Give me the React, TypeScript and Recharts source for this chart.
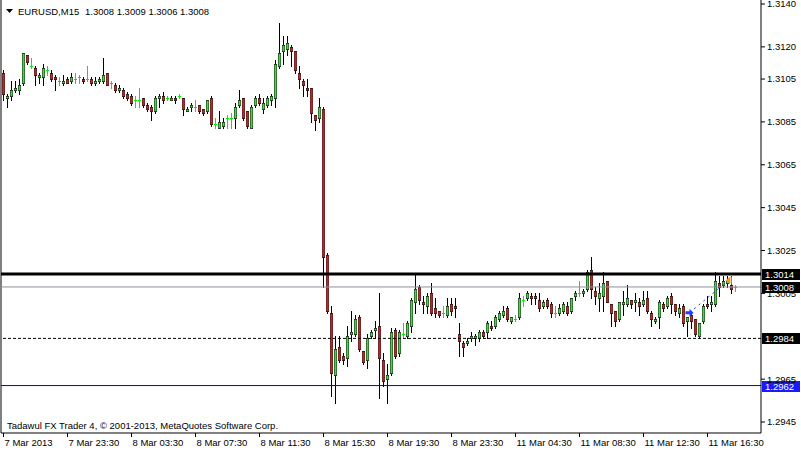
import React from "react";
import {
  ComposedChart,
  Bar,
  XAxis,
  YAxis,
  ReferenceLine,
  ReferenceDot,
} from "recharts";

// EURUSD M15 candles, 7 Mar 19:30 .. 11 Mar 18:15
const open = [
  1.3108, 1.3096, 1.3097, 1.31, 1.31, 1.3103, 1.3116, 1.3111, 1.311, 1.3106,
  1.3106, 1.3109, 1.3108, 1.3106, 1.3104, 1.3103, 1.3105, 1.3104, 1.3105, 1.3106,
  1.3105, 1.3105, 1.3105, 1.3103, 1.3104, 1.3104, 1.3108, 1.3103, 1.3102, 1.31,
  1.31, 1.3098, 1.3097, 1.3095, 1.3095, 1.3096, 1.3093, 1.3092, 1.309, 1.3096,
  1.3097, 1.3096, 1.3095, 1.3096, 1.3097, 1.3096, 1.309, 1.3092, 1.3092, 1.3093,
  1.3091, 1.309, 1.3096, 1.3084, 1.3082, 1.3083, 1.3087, 1.3087, 1.3087, 1.3093,
  1.3096, 1.309, 1.3082, 1.3093, 1.3096, 1.3091, 1.3093, 1.3095, 1.3096, 1.3111,
  1.3118, 1.3119, 1.312, 1.3118, 1.3108, 1.3104, 1.3101, 1.3101, 1.3088, 1.3087,
  1.3091, 1.3023, 1.2996, 1.2967, 1.298, 1.2976, 1.2975, 1.2986, 1.2986, 1.2994,
  1.2978, 1.2974, 1.2985, 1.2988, 1.299, 1.2974, 1.2965, 1.2968, 1.2988, 1.2977,
  1.2986, 1.2985, 1.299, 1.3001, 1.3008, 1.3001, 1.2999, 1.3005, 1.2998, 1.2997,
  1.2996, 1.2995, 1.3, 1.2999, 1.2986, 1.2982, 1.2982, 1.2984, 1.2984, 1.2984,
  1.2987, 1.2987, 1.299, 1.299, 1.2993, 1.2995, 1.2998, 1.2992, 1.2993, 1.2994,
  1.3002, 1.3003, 1.3004, 1.3004, 1.3002, 1.2999, 1.3002, 1.3, 1.2996, 1.2996,
  1.2997, 1.2999, 1.2997, 1.3004, 1.3005, 1.3005, 1.3007, 1.3016, 1.3006, 1.3003,
  1.3004, 1.3011, 1.3, 1.2997, 1.2993, 1.3, 1.3, 1.3002, 1.3001, 1.3001,
  1.3, 1.3003, 1.2996, 1.2992, 1.2994, 1.3, 1.2999, 1.3004, 1.3, 1.2996,
  1.2999, 1.2992, 1.2995, 1.2993, 1.2985, 1.2992, 1.3, 1.3, 1.3, 1.301,
  1.3009, 1.301, 1.3009, 1.3008,
];
const high = [
  1.3109, 1.3098, 1.3104, 1.3104, 1.3105, 1.3117, 1.3116, 1.3115, 1.3111, 1.3108,
  1.3112, 1.3111, 1.3109, 1.3107, 1.3106, 1.3107, 1.3106, 1.3108, 1.3108, 1.3107,
  1.3106, 1.3111, 1.3106, 1.3106, 1.3106, 1.3115, 1.3108, 1.3104, 1.3103, 1.3102,
  1.3101, 1.3099, 1.3098, 1.3097, 1.3101, 1.3096, 1.3094, 1.3093, 1.3097, 1.3098,
  1.3099, 1.3097, 1.3097, 1.3097, 1.3098, 1.3096, 1.3092, 1.3094, 1.3095, 1.3093,
  1.3091, 1.3095, 1.3097, 1.3087, 1.309, 1.3087, 1.3088, 1.3089, 1.3094, 1.31,
  1.3096, 1.309, 1.3093, 1.3097, 1.3098, 1.3096, 1.3097, 1.3098, 1.3114, 1.3131,
  1.3125, 1.3125, 1.3121, 1.3118, 1.3111, 1.3105, 1.3105, 1.3101, 1.3088, 1.3096,
  1.3092, 1.3024, 1.2999, 1.2985, 1.2985, 1.2977, 1.299, 1.2997, 1.2995, 1.2995,
  1.2978, 1.2986, 1.2988, 1.2992, 1.3005, 1.2977, 1.2972, 1.2989, 1.2989, 1.2988,
  1.2991, 1.2992, 1.3003, 1.3014, 1.3009, 1.3004, 1.3005, 1.301, 1.3003, 1.2997,
  1.2999, 1.3003, 1.3003, 1.3003, 1.2991, 1.2983, 1.2984, 1.2987, 1.2986, 1.2988,
  1.2988, 1.2992, 1.2992, 1.2995, 1.2997, 1.2999, 1.2999, 1.2994, 1.2995, 1.3005,
  1.3004, 1.3006, 1.3005, 1.3005, 1.3005, 1.3002, 1.3003, 1.3001, 1.2999, 1.3,
  1.3001, 1.3001, 1.3003, 1.3006, 1.3011, 1.3007, 1.3016, 1.3022, 1.3008, 1.301,
  1.3015, 1.3011, 1.3, 1.2997, 1.3001, 1.3006, 1.3009, 1.3002, 1.3005, 1.3003,
  1.3006, 1.3006, 1.2997, 1.2994, 1.3002, 1.3001, 1.3004, 1.3005, 1.3, 1.3,
  1.3, 1.2994, 1.2996, 1.2993, 1.2991, 1.3, 1.3004, 1.3004, 1.3015, 1.3013,
  1.3013, 1.3013, 1.3013, 1.3009,
];
const low = [
  1.3095, 1.3092, 1.3095, 1.3099, 1.3098, 1.3102, 1.3112, 1.311, 1.3102, 1.3103,
  1.3102, 1.3107, 1.3104, 1.31, 1.3102, 1.3102, 1.3103, 1.3103, 1.3103, 1.3103,
  1.3103, 1.3104, 1.3102, 1.3102, 1.3103, 1.3103, 1.3102, 1.3101, 1.3099, 1.3099,
  1.3096, 1.3095, 1.3093, 1.3092, 1.3092, 1.3092, 1.309, 1.3086, 1.3089, 1.3092,
  1.3094, 1.3095, 1.3095, 1.3094, 1.3096, 1.3088, 1.309, 1.309, 1.309, 1.3089,
  1.3088, 1.3089, 1.3083, 1.3082, 1.3082, 1.3082, 1.3082, 1.3082, 1.3082, 1.3092,
  1.3086, 1.3082, 1.3082, 1.3092, 1.3093, 1.3089, 1.3092, 1.3093, 1.3092, 1.311,
  1.3112, 1.3116, 1.3111, 1.3108, 1.3101, 1.3097, 1.3097, 1.3085, 1.3081, 1.3085,
  1.3008, 1.2996, 1.2957, 1.2954, 1.2973, 1.2972, 1.2971, 1.2983, 1.2985, 1.2978,
  1.2972, 1.297, 1.2984, 1.2984, 1.2956, 1.2962, 1.2954, 1.2967, 1.2975, 1.2976,
  1.2984, 1.2984, 1.2987, 1.2996, 1.3, 1.2996, 1.2996, 1.2995, 1.2994, 1.2994,
  1.2994, 1.2994, 1.2995, 1.2994, 1.2976, 1.2976, 1.2981, 1.2983, 1.2981, 1.2983,
  1.2984, 1.2984, 1.2988, 1.2989, 1.2992, 1.2994, 1.2992, 1.2991, 1.2992, 1.2993,
  1.2999, 1.3002, 1.3, 1.3, 1.2997, 1.2998, 1.2998, 1.2994, 1.2994, 1.2995,
  1.2996, 1.2995, 1.2996, 1.3002, 1.3004, 1.3004, 1.3006, 1.3003, 1.3, 1.2997,
  1.2997, 1.3001, 1.299, 1.299, 1.2992, 1.2995, 1.2999, 1.2998, 1.2997, 1.2995,
  1.2999, 1.2996, 1.299, 1.2991, 1.2989, 1.2997, 1.2998, 1.2996, 1.2995, 1.2994,
  1.299, 1.2985, 1.2989, 1.2985, 1.2984, 1.2991, 1.2998, 1.2997, 1.2999, 1.3004,
  1.3008, 1.3008, 1.3005, 1.3006,
];
const close = [
  1.3098, 1.3097, 1.31, 1.3101, 1.3102, 1.3117, 1.3113, 1.3111, 1.3107, 1.3107,
  1.311, 1.3109, 1.3105, 1.3105, 1.3104, 1.3104, 1.3103, 1.3106, 1.3105, 1.3106,
  1.3104, 1.3105, 1.3103, 1.3104, 1.3105, 1.3107, 1.3102, 1.3103, 1.31, 1.3101,
  1.3097, 1.3096, 1.3094, 1.3095, 1.3095, 1.3093, 1.3091, 1.309, 1.3096, 1.3097,
  1.3095, 1.3096, 1.3096, 1.3095, 1.3097, 1.3091, 1.3091, 1.3093, 1.3092, 1.309,
  1.3089, 1.3095, 1.3084, 1.3084, 1.3085, 1.3085, 1.3087, 1.3087, 1.3092, 1.3095,
  1.3087, 1.3083, 1.3092, 1.3096, 1.3094, 1.3094, 1.3096, 1.3097, 1.3112, 1.3117,
  1.3121, 1.3122, 1.3118, 1.3109, 1.3105, 1.3102, 1.31, 1.3089, 1.3086, 1.3092,
  1.3022, 1.2997, 1.2968, 1.2979, 1.2974, 1.2974, 1.2985, 1.2987, 1.2993, 1.2979,
  1.2973, 1.2984, 1.2987, 1.2989, 1.2975, 1.2964, 1.2967, 1.2987, 1.2976, 1.2987,
  1.2986, 1.2991, 1.3002, 1.3007, 1.3002, 1.3, 1.3004, 1.2996, 1.2996, 1.2995,
  1.2996, 1.2999, 1.2997, 1.2998, 1.2983, 1.298, 1.2983, 1.2985, 1.2985, 1.2987,
  1.2985, 1.2991, 1.2989, 1.2994, 1.2996, 1.2997, 1.2993, 1.2994, 1.2993, 1.3003,
  1.3002, 1.3005, 1.3003, 1.3003, 1.2998, 1.3001, 1.2999, 1.2996, 1.2996, 1.2998,
  1.3, 1.2996, 1.3003, 1.3005, 1.3005, 1.3006, 1.3015, 1.3007, 1.3004, 1.3005,
  1.301, 1.3001, 1.2996, 1.2992, 1.3001, 1.3001, 1.3003, 1.3, 1.3002, 1.2999,
  1.3002, 1.2997, 1.2993, 1.2993, 1.3001, 1.2998, 1.3003, 1.3, 1.2997, 1.2998,
  1.2991, 1.2994, 1.2992, 1.2986, 1.2991, 1.2999, 1.2999, 1.3001, 1.3011, 1.3008,
  1.3011, 1.3011, 1.3007, 1.3008,
];

const timeTicks = [0, 16, 32, 48, 64, 80, 96, 112, 128, 144, 160, 176];
const timeLabels = [
  "7 Mar 2013", "7 Mar 23:30", "8 Mar 03:30", "8 Mar 07:30", "8 Mar 11:30",
  "8 Mar 15:30", "8 Mar 19:30", "8 Mar 23:30", "11 Mar 04:30", "11 Mar 08:30",
  "11 Mar 12:30", "11 Mar 16:30",
];
const priceTicks = [1.314, 1.312, 1.3105, 1.3085, 1.3065, 1.3045, 1.3025, 1.3005, 1.2965, 1.2945];

// horizontal levels: resistance, bid, support, low
const resistance = 1.3014;
const bid = 1.3008;
const support = 1.2984;
const lowLevel = 1.2962;

// the trade drawn on the chart (bar index, price)
const tradeOpen = { i: 171.5, price: 1.2996 };
const tradeClose = { i: 181.2, price: 1.3011 };

const FONT = "'Liberation Sans', Arial, sans-serif";
const UP = "#22f022";
const DOWN = "#f01010";
const DOJI = "#00ee00";

const data = open.map((o, i) => ({
  i,
  range: [low[i], high[i]],
  o,
  h: high[i],
  l: low[i],
  c: close[i],
}));

const Candle = (props: any) => {
  const { x, y, width, height, payload } = props;
  if (x == null || !payload) return null;
  const top = Math.min(y, y + height);
  const span = Math.abs(height);
  const { o, h, l, c } = payload;
  const toY = (p: number) => (h === l ? top : top + ((h - p) / (h - l)) * span);
  const col = Math.floor(x + width / 2);
  const xm = col + 0.5;
  const yTop = Math.round(top);
  const yBot = Math.round(top + span);
  const yo = Math.round(toY(o));
  const yc = Math.round(toY(c));
  if (o === c) {
    return (
      <g>
        <line x1={xm} x2={xm} y1={yTop} y2={yBot + 1} stroke={DOJI} />
        <line x1={col - 1} x2={col + 2} y1={yo + 0.5} y2={yo + 0.5} stroke={DOJI} />
      </g>
    );
  }
  const bTop = Math.min(yo, yc);
  const bBot = Math.max(yo, yc);
  return (
    <g>
      <line x1={xm} x2={xm} y1={yTop} y2={yBot + 1} stroke="#000" />
      <rect
        x={col - 0.75}
        y={bTop + 0.25}
        width={2.5}
        height={Math.max(bBot - bTop + 0.5, 1)}
        fill={c > o ? UP : DOWN}
        stroke="#000"
        strokeWidth={0.5}
      />
    </g>
  );
};

const TimeTick = (props: any) => {
  const { x, y, payload } = props;
  const label = timeLabels[timeTicks.indexOf(payload.value)];
  return (
    <text x={x + 1} y={y} dy="0.71em" fontSize={9.5} fontFamily={FONT} fill="#000" textAnchor="start">
      {label}
    </text>
  );
};

const PriceTag = (props: any) => {
  const { viewBox, text, bg } = props;
  if (!viewBox) return null;
  const x = viewBox.x + viewBox.width + 1;
  const yc = Math.round(viewBox.y);
  return (
    <g>
      <rect x={x} y={yc - 5} width={38} height={11} fill={bg} />
      <text x={x + 3} y={yc + 4} fontSize={9.5} fontFamily={FONT} fill="#fff">
        {text}
      </text>
    </g>
  );
};

const BuyMark = (props: any) => {
  const { cx, cy } = props;
  return (
    <polygon
      points={`${cx - 4},${cy - 1.5} ${cx},${cy - 1.5} ${cx},${cy - 4} ${cx + 4},${cy} ${cx},${cy + 4} ${cx},${cy + 1.5} ${cx - 4},${cy + 1.5}`}
      fill="#1f3fff"
    />
  );
};

const CloseMark = (props: any) => {
  const { cx, cy } = props;
  return (
    <g>
      <polygon points={`${cx - 3},${cy} ${cx + 2},${cy - 4} ${cx + 2},${cy + 4}`} fill="#e0a030" />
      <line x1={cx + 3} x2={cx + 3} y1={cy - 4} y2={cy + 4} stroke="#e0a030" />
    </g>
  );
};

const last = open.length - 1;
const header = [open[last], high[last], low[last], close[last]].map((v) => v.toFixed(4)).join(" ");

const App: React.FC = () => (
  <div style={{ position: "absolute", left: 0, top: 0, width: 801, height: 451, background: "#fff" }}>
    <ComposedChart
      width={801}
      height={451}
      data={data}
      margin={{ top: 0, right: 0, bottom: 0, left: 1 }}
    >
      <XAxis
        dataKey="i"
        type="number"
        domain={[-0.625, 189.375]}
        allowDataOverflow
        ticks={timeTicks}
        interval={0}
        tick={<TimeTick />}
        tickSize={4}
        tickMargin={2}
        height={18}
        stroke="#000"
      />
      <YAxis
        orientation="right"
        type="number"
        domain={[1.293987, 1.314187]}
        allowDataOverflow
        ticks={priceTicks}
        interval={0}
        tickFormatter={(v: number) => v.toFixed(4)}
        tick={{ fill: "#000", fontSize: 9.5, fontFamily: FONT }}
        tickSize={4}
        tickMargin={2}
        width={40}
        stroke="#000"
      />
      <ReferenceLine x={-0.625} stroke="#000" />
      <Bar dataKey="range" barSize={3} shape={Candle} isAnimationActive={false} />
      <ReferenceLine y={support} stroke="#000" strokeDasharray="3 2" label={<PriceTag text={support.toFixed(4)} bg="#000" />} />
      <ReferenceLine y={lowLevel} stroke="#0000d0" label={<PriceTag text={lowLevel.toFixed(4)} bg="#1a1aff" />} />
      <ReferenceLine y={bid} stroke="#8c949c" label={<PriceTag text={bid.toFixed(4)} bg="#000" />} />
      <ReferenceLine y={resistance} stroke="#000" strokeWidth={3} label={<PriceTag text={resistance.toFixed(4)} bg="#000" />} />
      <ReferenceLine
        segment={[
          { x: tradeOpen.i, y: tradeOpen.price },
          { x: tradeClose.i, y: tradeClose.price },
        ]}
        stroke="#1f3fff"
        strokeDasharray="2 4"
      />
      <ReferenceDot x={tradeOpen.i} y={tradeOpen.price} shape={BuyMark} />
      <ReferenceDot x={tradeClose.i} y={tradeClose.price} shape={CloseMark} />
    </ComposedChart>
    <svg width={801} height={451} style={{ position: "absolute", left: 0, top: 0, pointerEvents: "none" }}>
      <polygon points="6,9 13,9 9.5,13" fill="#000" />
      <text x={18} y={14.5} fontSize={9.5} fontFamily={FONT} fill="#000">EURUSD,M15</text>
      <text x={85} y={14.5} fontSize={9.5} fontFamily={FONT} fill="#000">{header}</text>
      <text x={7} y={429} fontSize={9.5} fontFamily={FONT} fill="#000">
        Tadawul FX Trader 4, © 2001-2013, MetaQuotes Software Corp.
      </text>
    </svg>
  </div>
);

export default App;
